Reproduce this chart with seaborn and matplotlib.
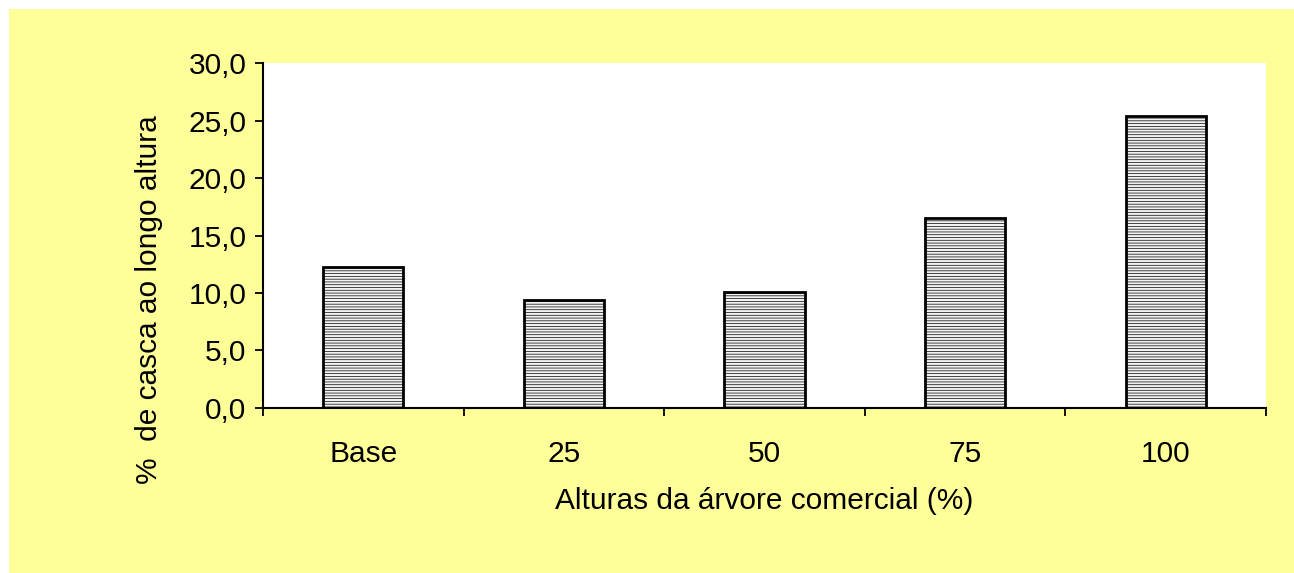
import seaborn as sns
import matplotlib.pyplot as plt
import matplotlib.patches as mpatches
import pandas as pd

alturas = ["Base", "25", "50", "75", "100"]
casca = [12.3, 9.4, 10.1, 16.5, 25.4]
y_ticks = [0, 5, 10, 15, 20, 25, 30]
y_labels = ["0,0", "5,0", "10,0", "15,0", "20,0", "25,0", "30,0"]

df = pd.DataFrame({"altura": alturas, "casca": casca})

sns.set_style("white")
plt.rcParams["font.family"] = ["Liberation Sans", "DejaVu Sans"]
plt.rcParams["text.color"] = "black"
plt.rcParams["axes.labelcolor"] = "black"
plt.rcParams["xtick.color"] = "black"
plt.rcParams["ytick.color"] = "black"
plt.rcParams["hatch.color"] = "#cccccc"
plt.rcParams["hatch.linewidth"] = 0.5

fig = plt.figure(figsize=(12.94, 5.73), dpi=100, facecolor="white")
# yellow chart area, offset by a thin white margin at left/top
bg = mpatches.Rectangle((9 / 1294, 0), 1, 1 - 9 / 573,
                        transform=fig.transFigure,
                        facecolor="#ffff99", edgecolor="none", zorder=-10)
fig.add_artist(bg)

ax = fig.add_axes([0.2032, 0.288, 0.7752, 0.602])
ax.set_facecolor("white")

sns.barplot(data=df, x="altura", y="casca", color="#f2f2f2", width=0.4,
            edgecolor="black", linewidth=2, ax=ax)
for p in ax.patches:
    p.set_hatch("------")

ax.set_ylim(0, 30)
ax.set_xlim(-0.5, 4.5)
ax.set_yticks(y_ticks)
ax.set_yticklabels(y_labels, fontsize=21.5)
ax.set_xticks(range(len(alturas)))
ax.set_xticklabels(alturas, fontsize=21.5)
ax.set_xticks([i - 0.5 for i in range(len(alturas) + 1)], minor=True)
ax.tick_params(axis="x", which="major", length=0, pad=23)
ax.tick_params(axis="x", which="minor", length=6, width=1.3, direction="out", bottom=True)
ax.tick_params(axis="y", length=6, width=1.3, direction="out", left=True, pad=6)

for s in ["top", "right"]:
    ax.spines[s].set_visible(False)
for s in ["left", "bottom"]:
    ax.spines[s].set_color("black")
    ax.spines[s].set_linewidth(1.5)

ax.set_xlabel("Alturas da árvore comercial (%)", fontsize=21.5, labelpad=14)
ax.set_ylabel("%  de casca ao longo altura", fontsize=21.5)
ax.yaxis.set_label_coords(-0.10, 0.313)

fig.savefig("out.png", dpi=100, facecolor=fig.get_facecolor())
